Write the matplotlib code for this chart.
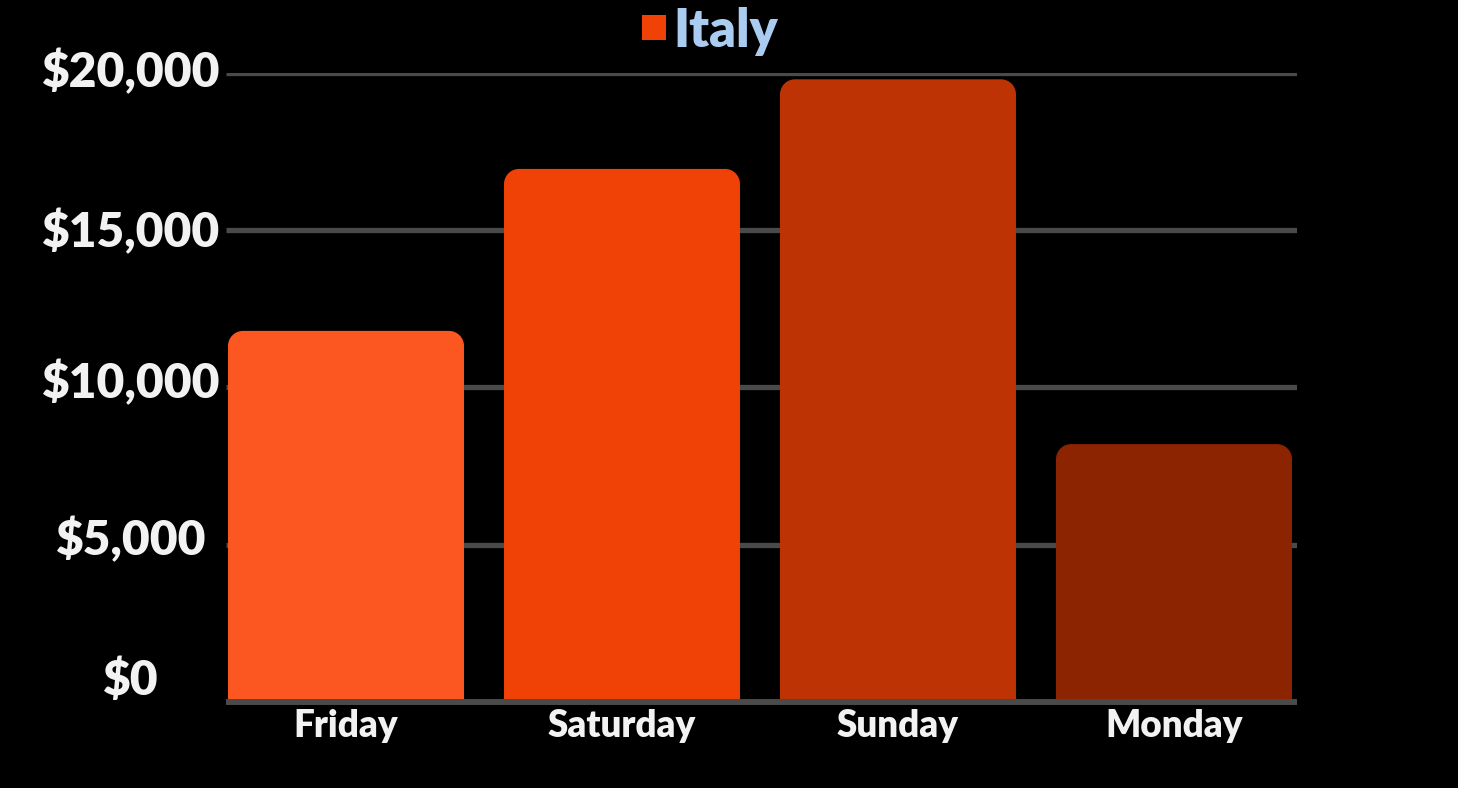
import matplotlib
matplotlib.use("Agg")
import matplotlib.pyplot as plt
from matplotlib.path import Path
from matplotlib.patches import PathPatch, Patch
from matplotlib.transforms import offset_copy

# ---- data ----
categories = ["Friday", "Saturday", "Sunday", "Monday"]
values = [11800, 16950, 19800, 8200]
series_name = "Italy"
yticks = [0, 5000, 10000, 15000, 20000]
ytick_labels = ["$0", "$5,000", "$10,000", "$15,000", "$20,000"]

# ---- style ----
bar_colors = ["#FC5621", "#F04107", "#BD3304", "#8C2402"]
legend_color = "#F04107"
text_color = "#F2F2F2"
legend_text_color = "#AACCF0"
grid_color = "#4A4A4A"
FONT = "Lato"
WEIGHT = "heavy"
W, H, DPI = 1458, 788, 100

plt.rcParams["font.family"] = [FONT, "DejaVu Sans"]
fig = plt.figure(figsize=(W / DPI, H / DPI), dpi=DPI, facecolor="black")
ax_left, ax_right = 226 / W, 1297 / W
ax_bottom, ax_top = (H - 702) / H, (H - 73) / H
ax = fig.add_axes([ax_left, ax_bottom, ax_right - ax_left, ax_top - ax_bottom])
ax.set_facecolor("black")

xpos = list(range(len(categories)))
ax.set_xlim(-0.4348, 3.4457)
ax.set_ylim(0, 20000)
bar_width = 0.855

bars = ax.bar(xpos, values, width=bar_width, color=bar_colors)

# rounded top corners
ax_w_px = (ax_right - ax_left) * W
ax_h_px = (ax_top - ax_bottom) * H
r_px = 15
rx = r_px * (ax.get_xlim()[1] - ax.get_xlim()[0]) / ax_w_px
ry = r_px * (ax.get_ylim()[1] - ax.get_ylim()[0]) / ax_h_px
k = 0.5523
for rect, col in zip(bars, bar_colors):
    x0 = rect.get_x()
    w = rect.get_width()
    h = rect.get_height()
    x1 = x0 + w
    rect.set_visible(False)
    verts = [
        (x0, 0),
        (x0, h - ry),
        (x0, h - ry + k * ry), (x0 + rx - k * rx, h), (x0 + rx, h),
        (x1 - rx, h),
        (x1 - rx + k * rx, h), (x1, h - ry + k * ry), (x1, h - ry),
        (x1, 0),
        (x0, 0),
    ]
    codes = [Path.MOVETO, Path.LINETO,
             Path.CURVE4, Path.CURVE4, Path.CURVE4,
             Path.LINETO,
             Path.CURVE4, Path.CURVE4, Path.CURVE4,
             Path.LINETO, Path.CLOSEPOLY]
    ax.add_patch(PathPatch(Path(verts, codes), facecolor=col, edgecolor="none", zorder=2))

# grid
for yv in yticks[1:]:
    ax.axhline(yv, color=grid_color, lw=3.8, zorder=1, solid_capstyle="butt")
for s in ["top", "right", "left"]:
    ax.spines[s].set_visible(False)
ax.spines["bottom"].set_color(grid_color)
ax.spines["bottom"].set_linewidth(4.3)
ax.spines["bottom"].set_capstyle("butt")
ax.spines["bottom"].set_zorder(3)

ax.set_yticks(yticks)
ax.set_yticklabels([])
ax.tick_params(axis="y", length=0)
label_offsets_px = [21, 5, 4.5, -2, 1]
ytrans = ax.get_yaxis_transform()
label_x = (130 - 226) / ax_w_px
for yv, lab, off in zip(yticks, ytick_labels, label_offsets_px):
    t = offset_copy(ytrans, fig=fig, x=0, y=off, units="dots")
    ax.text(label_x, yv, lab, transform=t, ha="center", va="center",
            fontsize=34.5, fontweight=WEIGHT, color=text_color)

ax.set_xticks(xpos)
ax.set_xticklabels(categories, fontsize=26.5, fontweight=WEIGHT, color=text_color)
ax.tick_params(axis="x", length=0, pad=5)

handle = Patch(facecolor=legend_color, edgecolor="none")
leg = fig.legend([handle], [series_name], loc="center",
                 bbox_to_anchor=(710 / W, 1 - 31 / H), frameon=False,
                 handlelength=0.47, handleheight=0.36, handletextpad=0.15,
                 borderpad=0, prop={"family": FONT, "weight": WEIGHT, "size": 37.5})
for t in leg.get_texts():
    t.set_color(legend_text_color)

fig.savefig("out.png", dpi=DPI, facecolor="black")
